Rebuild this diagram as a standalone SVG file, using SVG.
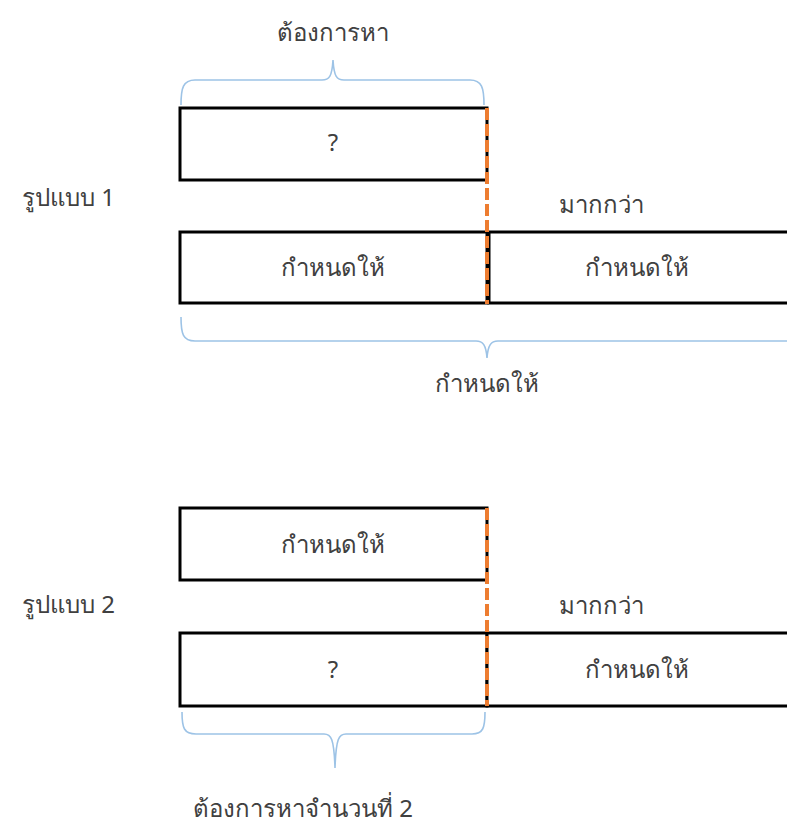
<svg xmlns="http://www.w3.org/2000/svg" width="787" height="837" viewBox="0 0 787 837">
  <style>
    .box { fill: #ffffff; stroke: #000000; stroke-width: 3; }
    .split { fill: none; stroke: #ED7D31; stroke-width: 4; stroke-dasharray: 12 4; }
    .brace { fill: none; stroke: #9DC3E6; stroke-width: 1.6; }
    .lbl { font-family: "Noto Sans", "DejaVu Sans", sans-serif; font-size: 24px; fill: #404040; }
    .mid { text-anchor: middle; }
  </style>
  <rect width="787" height="837" fill="#ffffff"/>

  <!-- Pattern 1 -->
  <g id="pattern1-title"><text class="lbl" x="22" y="206">รูปแบบ 1</text></g>
  <g id="p1-unknown">
    <rect class="box" x="180" y="108" width="307" height="72"/>
    <text class="lbl mid" x="333" y="151">?</text>
  </g>
  <g id="p1-given-left">
    <rect class="box" x="180" y="232" width="307" height="71"/>
    <text class="lbl mid" x="333" y="276">กำหนดให้</text>
  </g>
  <g id="p1-given-right">
    <rect class="box" x="489" y="232" width="310" height="71"/>
    <text class="lbl mid" x="637" y="276">กำหนดให้</text>
  </g>
  <g id="p1-more"><text class="lbl mid" x="601" y="213">มากกว่า</text></g>
  <g id="p1-find"><text class="lbl mid" x="333" y="41">ต้องการหา</text></g>
  <g id="p1-total"><text class="lbl mid" x="487" y="392">กำหนดให้</text></g>

  <!-- Pattern 2 -->
  <g id="pattern2-title"><text class="lbl" x="22" y="613">รูปแบบ 2</text></g>
  <g id="p2-given-top">
    <rect class="box" x="180" y="508" width="307" height="72"/>
    <text class="lbl mid" x="333" y="553">กำหนดให้</text>
  </g>
  <g id="p2-unknown">
    <rect class="box" x="180" y="633" width="307" height="73"/>
    <text class="lbl mid" x="333" y="678">?</text>
  </g>
  <g id="p2-given-right">
    <rect class="box" x="487" y="633" width="312" height="73"/>
    <text class="lbl mid" x="637" y="678">กำหนดให้</text>
  </g>
  <g id="p2-more"><text class="lbl mid" x="601" y="614">มากกว่า</text></g>
  <g id="p2-find"><text class="lbl" x="193" y="817">ต้องการหาจำนวนที่ 2</text></g>

  <!-- connectors: split lines and braces -->
  <g id="connectors">
    <line class="split" x1="487" y1="108" x2="487" y2="304"/>
    <line class="split" x1="487" y1="508" x2="487" y2="706"/>
    <path class="brace" d="M181,105 C181,88 183,80 195,80 L322,80 C329,80 332,77 333,60 C334,77 337,80 344,80 L470,80 C482,80 484,88 484,105"/>
    <path class="brace" d="M181,317 C181,334 183,341 195,341 L476,341 C483,341 486,345 487,358 C488,345 491,341 498,341 L790,341"/>
    <path class="brace" d="M182,712 C182,728 184,734 196,734 L324,734 C331,734 334,738 335,768 C336,738 339,734 346,734 L472,734 C483,734 485,728 485,712"/>
  </g>
</svg>
